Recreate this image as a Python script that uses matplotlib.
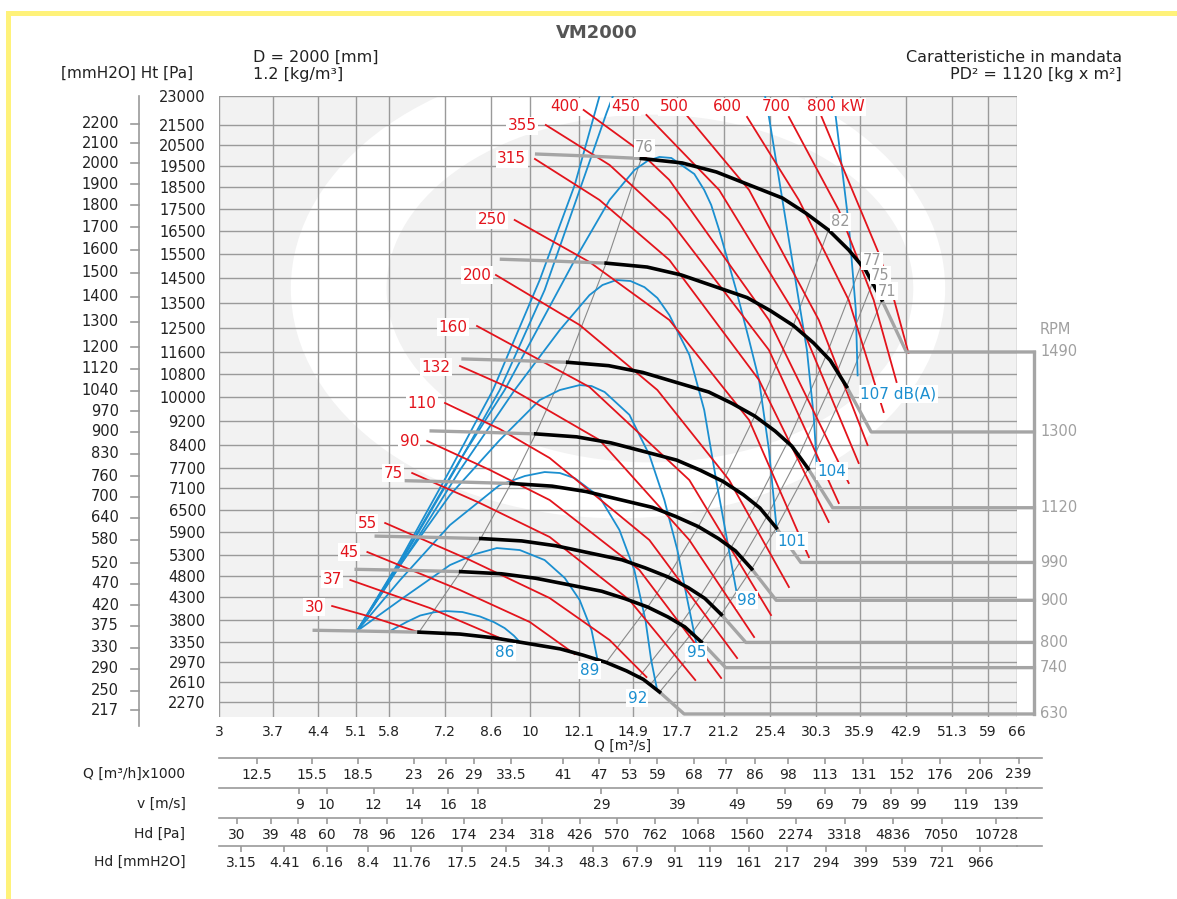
import numpy as np
import matplotlib.pyplot as plt
import matplotlib.transforms as mtransforms
from matplotlib.ticker import NullLocator
from matplotlib.patches import Ellipse

plt.rcParams['font.family'] = ['DejaVu Sans']

# ── Axis ticks ────────────────────────────────────────────────────────────────
Q_TICKS = [3, 3.7, 4.4, 5.1, 5.8, 7.2, 8.6, 10, 12.1, 14.9, 17.7, 21.2, 25.4,
           30.3, 35.9, 42.9, 51.3, 59, 66]
P_TICKS = [23000, 21500, 20500, 19500, 18500, 17500, 16500, 15500, 14500,
           13500, 12500, 11600, 10800, 10000, 9200, 8400, 7700, 7100, 6500,
           5900, 5300, 4800, 4300, 3800, 3350, 2970, 2610, 2270]
MM_TICKS = [2200, 2100, 2000, 1900, 1800, 1700, 1600, 1500, 1400, 1300, 1200,
            1120, 1040, 970, 900, 830, 760, 700, 640, 580, 520, 470, 420, 375,
            330, 290, 250, 217]
QH_TICKS = [12.5, 15.5, 18.5, 23, 26, 29, 33.5, 41, 47, 53, 59, 68, 77, 86,
            98, 113, 131, 152, 176, 206, 239]
V_TICKS = [9, 10, 12, 14, 16, 18, 29, 39, 49, 59, 69, 79, 89, 99, 119, 139]
HD_TICKS = [30, 39, 48, 60, 78, 96, 126, 174, 234, 318, 426, 570, 762, 1068,
            1560, 2274, 3318, 4836, 7050, 10728]
HDMM_TICKS = [3.15, 4.41, 6.16, 8.4, 11.76, 17.5, 24.5, 34.3, 48.3, 67.9, 91,
              119, 161, 217, 294, 399, 539, 721, 966]

# ── Fan curves (Q m3/s, Ht Pa): gray head 0-2, black 2-11, gray tail 11-12 ──
RPM = [1490, 1300, 1120, 990, 900, 800, 740, 630]
Q_1490 = [10.2, 12.3, 15.4, 18.05, 20.6, 23.4, 26.6, 29.1, 31.8, 34.4, 36.7, 39.1, 43.0]
P_1490 = [20080, 19990, 19860, 19645, 19213, 18600, 17993, 17310, 16551, 15678, 14830, 13603, 11600]
Q_1300 = [8.90, 10.73, 13.44, 15.75, 17.97, 20.42, 23.21, 25.39, 27.75, 30.01, 32.02, 34.11, 37.52]
P_1300 = [15285, 15217, 15118, 14954, 14625, 14158, 13697, 13177, 12599, 11935, 11289, 10355, 8830]
Q_1120 = [7.67, 9.25, 11.58, 13.57, 15.49, 17.59, 20.00, 21.87, 23.90, 25.86, 27.59, 29.39, 32.32]
P_1120 = [11345, 11294, 11221, 11099, 10855, 10509, 10166, 9780, 9351, 8858, 8379, 7686, 6554]
Q_990 = [6.78, 8.17, 10.23, 11.99, 13.69, 15.55, 17.67, 19.33, 21.13, 22.86, 24.38, 25.98, 28.57]
P_990 = [8865, 8825, 8768, 8673, 8482, 8212, 7944, 7642, 7307, 6922, 6547, 6006, 5121]
Q_900 = [6.16, 7.43, 9.30, 10.90, 12.44, 14.13, 16.07, 17.58, 19.21, 20.78, 22.17, 23.62, 25.97]
P_900 = [7327, 7294, 7246, 7168, 7011, 6787, 6565, 6316, 6039, 5721, 5411, 4963, 4233]
Q_800 = [5.48, 6.60, 8.27, 9.69, 11.06, 12.56, 14.28, 15.62, 17.07, 18.47, 19.70, 20.99, 23.09]
P_800 = [5789, 5763, 5725, 5664, 5539, 5362, 5187, 4990, 4772, 4520, 4275, 3922, 3344]
Q_740 = [5.07, 6.11, 7.65, 8.96, 10.23, 11.62, 13.21, 14.45, 15.79, 17.08, 18.23, 19.42, 21.35]
P_740 = [4954, 4932, 4898, 4846, 4740, 4589, 4438, 4270, 4083, 3868, 3659, 3356, 2862]
Q_630 = [4.31, 5.20, 6.51, 7.63, 8.71, 9.89, 11.25, 12.30, 13.44, 14.54, 15.52, 16.53, 18.18]
P_630 = [3590, 3574, 3551, 3512, 3435, 3326, 3217, 3095, 2959, 2803, 2651, 2432, 2074]
FAN_Q = [Q_1490, Q_1300, Q_1120, Q_990, Q_900, Q_800, Q_740, Q_630]
FAN_P = [P_1490, P_1300, P_1120, P_990, P_900, P_800, P_740, P_630]
Q_RPM_END = 70.6   # where the RPM lines meet the vertical bar

# ── Efficiency lines (thin gray) ─────────────────────────────────────────────
EFF_LABELS = ['76', '82', '77', '75', '71']
EFF76_Q = [6.51, 7.65, 8.27, 9.30, 10.23, 11.58, 13.44, 15.4]
EFF76_P = [3551, 4898, 5725, 7246, 8768, 11221, 15118, 19860]
EFF82_Q = [13.44, 15.79, 17.07, 19.21, 21.13, 23.90, 27.75, 31.8]
EFF82_P = [2959, 4083, 4772, 6039, 7307, 9351, 12599, 16551]
EFF77_Q = [15.26, 17.93, 19.38, 21.80, 23.99, 27.14, 31.50, 36.1]
EFF77_P = [2691, 3712, 4339, 5491, 6644, 8503, 11456, 15050]
EFF75_Q = [15.94, 18.72, 20.24, 22.77, 25.05, 28.34, 32.89, 37.7]
EFF75_P = [2555, 3525, 4120, 5214, 6309, 8074, 10878, 14290]
EFF71_Q = [16.53, 19.42, 20.99, 23.62, 25.98, 29.39, 34.11, 39.1]
EFF71_P = [2432, 3356, 3922, 4963, 6006, 7686, 10355, 13603]
EFF_Q = [EFF76_Q, EFF82_Q, EFF77_Q, EFF75_Q, EFF71_Q]
EFF_P = [EFF76_P, EFF82_P, EFF77_P, EFF75_P, EFF71_P]
EFF_LABEL_Q = [15.59, 33.3, 37.6, 38.9, 39.9]
EFF_LABEL_P = [20372, 16906, 15220, 14620, 13950]

# ── Power lines (red, kW) ────────────────────────────────────────────────────
KW = ['30', '37', '45', '55', '75', '90', '110', '132', '160', '200', '250',
      '315', '355', '400', '450', '500', '600', '700', '800 kW']
R30_Q, R30_P = [4.65, 5.49, 6.49], [4106, 3846, 3553]
R37_Q, R37_P = [4.99, 6.79, 9.07], [4698, 4062, 3392]
R45_Q, R45_P = [5.33, 7.63, 10.0, 11.9], [5380, 4465, 3761, 3117]
R55_Q, R55_P = [5.71, 7.93, 10.8, 13.62, 15.71], [6136, 5180, 4283, 3392, 2692]
R75_Q, R75_P = [6.34, 8.24, 10.8, 14.71, 18.98], [7554, 6686, 5765, 4239, 2639]
R90_Q, R90_P = [6.72, 8.57, 10.8, 15.29, 20.98], [8540, 7644, 6770, 4936, 2675]
R110_Q, R110_P = [7.2, 8.9, 10.8, 15.89, 22.32], [9789, 8925, 8009, 5687, 3041]
R132_Q, R132_P = [7.63, 9.25, 13.10, 18.55, 23.84], [11087, 10305, 8571, 5687, 3452]
R160_Q, R160_P = [8.15, 12.60, 18.55, 25.45], [12580, 10340, 7346, 3910]
R200_Q, R200_P = [8.77, 12.13, 16.39, 21.64, 27.28], [14621, 12619, 10235, 7346, 4535]
R250_Q, R250_P = [9.43, 12.60, 17.17, 23.38, 29.47], [16996, 15167, 12812, 9220, 5254]
R315_Q, R315_P = [10.2, 13.10, 17.17, 24.30, 31.83], [19837, 17902, 15252, 10586, 6163]
R355_Q, R355_P = [10.64, 13.62, 17.17, 25.25, 33.09], [21515, 19548, 16996, 11673, 6685]
R400_Q, R400_P = [12.32, 15.0, 17.17, 25.25, 34.39], [22278, 20420, 18833, 12812, 7259]
R450_Q, R450_P = [15.71, 20.82, 28.35, 35.74], [22023, 18366, 12812, 7856]
R500_Q, R500_P = [18.34, 23.38, 30.63, 37.0], [22023, 18366, 12812, 8414]
R600_Q, R600_P = [23.2, 28.35, 34.39, 39.37], [21921, 17902, 13603, 9486]
R700_Q, R700_P = [27.28, 33.09, 37.88, 41.39], [21921, 17445, 13603, 10516]
R800_Q, R800_P = [30.87, 38.61, 40.92, 43.35], [22023, 15550, 13683, 11562]
RED_Q = [R30_Q, R37_Q, R45_Q, R55_Q, R75_Q, R90_Q, R110_Q, R132_Q, R160_Q,
         R200_Q, R250_Q, R315_Q, R355_Q, R400_Q, R450_Q, R500_Q, R600_Q,
         R700_Q, R800_Q]
RED_P = [R30_P, R37_P, R45_P, R55_P, R75_P, R90_P, R110_P, R132_P, R160_P,
         R200_P, R250_P, R315_P, R355_P, R400_P, R450_P, R500_P, R600_P,
         R700_P, R800_P]
KW_LABEL_Q = [4.34, 4.65, 4.97, 5.33, 5.89, 6.27, 6.59, 6.95, 7.43, 8.15, 8.64,
              9.32, 9.70, 11.46, 14.49, 17.50, 21.47, 25.93, 32.7]
KW_LABEL_P = [4083, 4720, 5380, 6136, 7554, 8540, 9789, 11050, 12540, 14621,
              16996, 19837, 21465, 22432, 22432, 22432, 22432, 22432, 22432]

# ── Noise lines (blue, dB(A)) ────────────────────────────────────────────────
DB = ['86', '89', '92', '95', '98', '101', '104', '107 dB(A)']
B86_Q = [5.82, 6.20, 6.54, 6.90, 7.22, 7.70, 8.24, 8.70, 9.07, 9.40, 9.62]
B86_P = [3574, 3760, 3900, 3970, 3996, 3975, 3880, 3760, 3635, 3480, 3352]
B89_Q = [5.12, 6.05, 7.34, 8.10, 8.80, 9.62, 10.59, 11.45, 12.13, 12.70, 13.00]
B89_P = [3574, 4239, 5057, 5330, 5481, 5430, 5180, 4745, 4239, 3594, 3003]
B92_Q = [5.12, 6.05, 7.34, 8.90, 9.81, 10.59, 11.23, 11.89, 13.10, 14.15, 14.99,
         15.65, 16.00, 16.35]
B92_P = [3574, 4698, 6082, 7200, 7466, 7584, 7555, 7405, 6858, 5949, 4936,
         3803, 3003, 2500]
B95_Q = [5.12, 6.05, 7.34, 8.90, 10.39, 11.23, 12.13, 12.70, 13.36, 14.71, 15.89,
         16.84, 17.71, 18.41, 19.05]
B95_P = [3574, 5057, 6912, 8571, 9890, 10235, 10408, 10374, 10167, 9390, 8100,
         6770, 5430, 4239, 3332]
B98_Q = [5.12, 6.29, 7.63, 9.43, 11.23, 12.60, 13.25, 13.99, 14.77, 15.59, 16.39,
         17.17, 18.55, 19.65, 20.58, 21.39, 22.24]
B98_P = [3574, 5430, 7644, 10235, 12426, 13800, 14209, 14414, 14373, 14121, 13683,
         13004, 11490, 9553, 7346, 5829, 4465]
B101_Q = [5.12, 6.29, 7.63, 9.07, 10.39, 11.90, 13.62, 15.0, 15.77, 16.52, 17.30,
          18.19, 18.91, 19.65, 20.19, 20.82, 22.24, 23.38, 24.30, 25.25, 26.05]
B101_P = [3574, 5557, 7948, 10235, 12619, 15252, 17902, 19308, 19741, 19935, 19885,
          19450, 19118, 18366, 17673, 16551, 14004, 12047, 10586, 8257, 5890]
B104L_Q = [5.12, 6.05, 7.34, 8.67, 10.39, 11.90, 13.10]
B104L_P = [3574, 5180, 7644, 10235, 14414, 18600, 23000]
B107L_Q = [5.12, 6.10, 7.48, 8.90, 10.59, 12.13, 13.46, 13.80]
B107L_P = [3574, 5180, 7644, 10235, 14004, 18366, 22125, 23000]
B104R_Q = [24.87, 25.25, 27.28, 29.25, 30.04, 30.39]
B104R_P = [23000, 21921, 16111, 11673, 9320, 7795]
B107R_Q = [32.2, 32.71, 34.39, 35.34, 35.6]
B107R_P = [23000, 21921, 16823, 13244, 10750]
BLUE_Q = [B86_Q, B89_Q, B92_Q, B95_Q, B98_Q, B101_Q, B104L_Q, B107L_Q, B104R_Q, B107R_Q]
BLUE_P = [B86_P, B89_P, B92_P, B95_P, B98_P, B101_P, B104L_P, B107L_P, B104R_P, B107R_P]
DB_LABEL_Q = [9.07, 12.60, 15.17, 19.05, 23.2, 27.6, 32.2, 41.71]
DB_LABEL_P = [3155, 2818, 2330, 3155, 4239, 5661, 7614, 10097]

# ── Colours ──────────────────────────────────────────────────────────────────
RED = '#e3141c'
BLUE = '#1b8fd0'
GRAY = '#a5a5a5'
GRID = '#9a9a9a'
TXT = '#222222'
BG = '#f2f2f2'

W, H = 1177, 899


def fx(px):
    return px / W


def fy(py):
    return 1 - py / H


fig = plt.figure(figsize=(W / 100, H / 100), dpi=100)
fig.patch.set_facecolor('white')

# yellow frame
fig.add_artist(plt.Rectangle((fx(6), fy(16)), fx(1177) - fx(6), 5 / H,
                             transform=fig.transFigure, color='#fff27a', lw=0))
fig.add_artist(plt.Rectangle((fx(6), 0), 5 / W, fy(11), transform=fig.transFigure,
                             color='#fff27a', lw=0))

ax = fig.add_axes([fx(219), fy(717), (1017 - 219) / W, (717 - 96) / H])
ax.set_xscale('log')
ax.set_yscale('function', functions=(lambda p: np.sqrt(np.clip(p, 0, None)),
                                     lambda s: np.square(s)))
ax.set_xlim(3, 66)
ax.set_ylim(2027, 23000)
ax.set_facecolor(BG)
for s in ax.spines.values():
    s.set_visible(False)

# faint logo in the background
logo = dict(transform=ax.transAxes, lw=0, zorder=0.1)
ax.add_patch(Ellipse((0.50, 0.69), 0.82, 0.74, color='white', **logo))
ax.add_patch(Ellipse((0.54, 0.69), 0.66, 0.56, color=BG, **logo))

ax.set_xticks(Q_TICKS, [f'{v:g}' for v in Q_TICKS])
ax.xaxis.set_minor_locator(NullLocator())
ax.set_yticks(P_TICKS, [str(v) for v in P_TICKS])
ax.yaxis.set_minor_locator(NullLocator())
ax.tick_params(axis='x', length=0, labelsize=10, pad=6, labelcolor=TXT)
ax.tick_params(axis='y', length=0, labelsize=10.5, pad=9.5, labelcolor=TXT)
ax.grid(True, color=GRID, lw=1.0)
ax.set_axisbelow(True)

# efficiency lines
for q, p in zip(EFF_Q, EFF_P):
    ax.plot(q, p, color='#8a8a8a', lw=0.8, zorder=2)

# noise lines
for q, p in zip(BLUE_Q, BLUE_P):
    ax.plot(q, p, color=BLUE, lw=1.3, zorder=3)

# power lines
for q, p in zip(RED_Q, RED_P):
    ax.plot(q, p, color=RED, lw=1.3, zorder=4)

# fan curves + RPM lines
blend = mtransforms.blended_transform_factory(ax.transAxes, ax.transData)
for n, q, p in zip(RPM, FAN_Q, FAN_P):
    ax.plot(q[:3], p[:3], color=GRAY, lw=2.4, zorder=5, solid_capstyle='butt')
    ax.plot(q[2:12], p[2:12], color='black', lw=2.6, zorder=6)
    ax.plot(q[11:] + [Q_RPM_END], p[11:] + [p[-1]], color=GRAY, lw=2.4,
            zorder=5, clip_on=False)
    ax.text(1.029, p[-1], str(n), transform=blend, color='#a0a0a0',
            fontsize=10.5, va='center', ha='left')
ax.plot([Q_RPM_END, Q_RPM_END], [P_1490[-1], P_630[-1]], color=GRAY, lw=2.4,
        clip_on=False, zorder=5)
fig.text(fx(1040), fy(330), 'RPM', color='#a0a0a0', fontsize=10.5, va='center')

box = dict(facecolor='white', edgecolor='none', pad=1.0)
for t, q, p in zip(KW, KW_LABEL_Q, KW_LABEL_P):
    ax.text(q, p, t, color=RED, fontsize=11, ha='center', va='center',
            bbox=box, zorder=8)
for t, q, p in zip(DB, DB_LABEL_Q, DB_LABEL_P):
    ax.text(q, p, t, color=BLUE, fontsize=11, ha='center', va='center',
            bbox=box, zorder=8)
for t, q, p in zip(EFF_LABELS, EFF_LABEL_Q, EFF_LABEL_P):
    ax.text(q, p, t, color='#999999', fontsize=10.5, ha='center', va='center',
            bbox=box, zorder=8)

# left mmH2O scale
x_mm = (139 - 219) / 798
ax.plot([x_mm, x_mm], [-0.015, 1], transform=ax.transAxes, color=GRID, lw=1.2,
        clip_on=False)
for mm in MM_TICKS:
    ax.plot([x_mm - 0.010, x_mm], [mm * 9.81, mm * 9.81], transform=blend,
            color=GRID, lw=1.2, clip_on=False)
    ax.text((119 - 219) / 798, mm * 9.81, str(mm), transform=blend,
            fontsize=10.5, ha='right', va='center', color=TXT)

# bottom scales
rows = [
    (-0.066, lambda q: q * 3.6, lambda x: x / 3.6, QH_TICKS, 'Q [m³/h]x1000'),
    (-0.1143, lambda q: q * 2.198, lambda v: v / 2.198, V_TICKS, 'v [m/s]'),
    (-0.1626, lambda q: 2.898 * np.square(q),
     lambda h: np.sqrt(np.clip(h, 1e-9, None) / 2.898), HD_TICKS, 'Hd [Pa]'),
    (-0.2077, lambda q: 0.2954 * np.square(q),
     lambda h: np.sqrt(np.clip(h, 1e-9, None) / 0.2954), HDMM_TICKS, 'Hd [mmH2O]'),
]
xblend = mtransforms.blended_transform_factory(ax.transData, ax.transAxes)
for loc, f, finv, ticks, title in rows:
    sec = ax.secondary_xaxis(loc, functions=(f, finv))
    sec.set_xticks(ticks, [f'{v:g}' for v in ticks])
    sec.xaxis.set_minor_locator(NullLocator())
    sec.tick_params(direction='out', length=4, width=1.2, color=GRID,
                    labelsize=10, pad=3, labelcolor=TXT)
    sec.spines['bottom'].set_color(GRID)
    sec.spines['bottom'].set_linewidth(1.2)
    ax.plot([1.0, 1.0313], [loc, loc], transform=ax.transAxes, color=GRID,
            lw=1.2, clip_on=False)
    ax.text(-0.042, loc - 0.025, title, transform=ax.transAxes, fontsize=10,
            ha='right', va='center', color=TXT)
    # ticks that fall just past the right edge of the grid
    for v in ticks:
        q = float(finv(v))
        if q > 66:
            ax.plot([q, q], [loc, loc - 0.0075], transform=xblend, color=GRID,
                    lw=1.2, clip_on=False)
            ax.text(q, loc - 0.0255, f'{v:g}', transform=xblend, fontsize=10,
                    ha='center', va='center', color=TXT)

fig.text(fx(623), fy(746), 'Q [m³/s]', fontsize=10, ha='center', va='center',
         color=TXT)

# header
fig.text(fx(597), fy(33), 'VM2000', fontsize=13, fontweight='bold',
         color='#555555', ha='center', va='center')
fig.text(fx(253), fy(57), 'D = 2000 [mm]', fontsize=11.5, va='center', color=TXT)
fig.text(fx(253), fy(75), '1.2 [kg/m³]', fontsize=11.5, va='center', color=TXT)
fig.text(fx(61), fy(73), '[mmH2O] Ht [Pa]', fontsize=11, va='center', color=TXT)
fig.text(fx(1122), fy(57), 'Caratteristiche in mandata', fontsize=11.5,
         ha='right', va='center', color=TXT)
fig.text(fx(1122), fy(75), 'PD² = 1120 [kg x m²]', fontsize=11.5,
         ha='right', va='center', color=TXT)

fig.savefig('out.png', dpi=100)
